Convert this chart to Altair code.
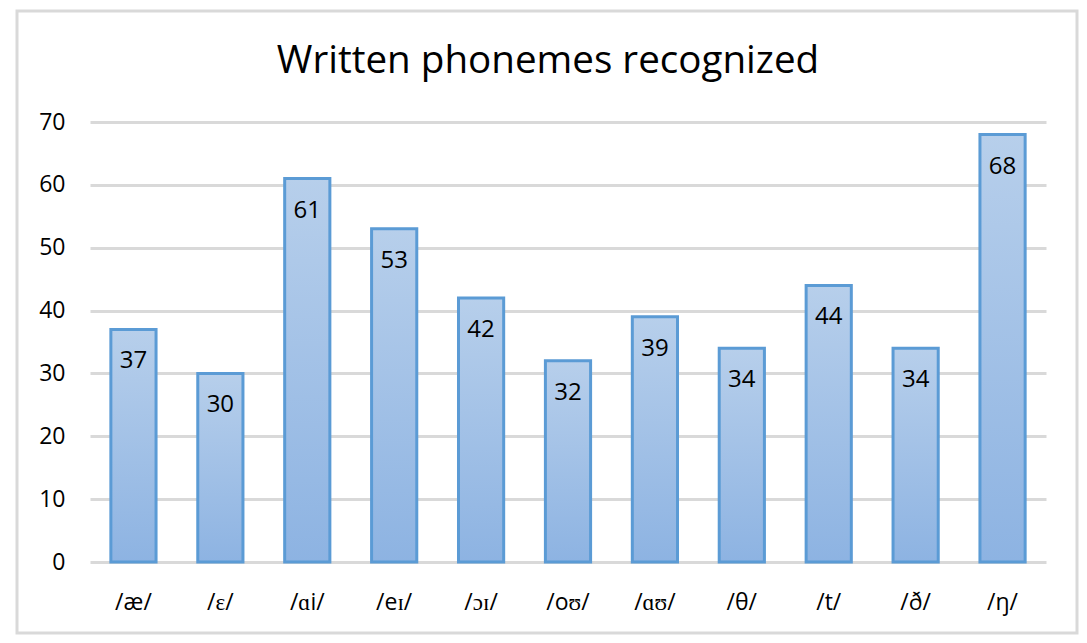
import altair as alt
import pandas as pd

categories = ["/æ/", "/ɛ/", "/ɑi/", "/eɪ/", "/ɔɪ/", "/oʊ/", "/ɑʊ/", "/θ/", "/t/", "/ð/", "/ŋ/"]
values = [37, 30, 61, 53, 42, 32, 39, 34, 44, 34, 68]
y_ticks = [0, 10, 20, 30, 40, 50, 60, 70]
title_text = "Written phonemes recognized"

df = pd.DataFrame({"phoneme": categories, "count": values})

FONT = "Open Sans"
W, H = 956, 440

x_enc = alt.X("phoneme:N", sort=categories,
              scale=alt.Scale(paddingInner=0.48, paddingOuter=0.24),
              axis=alt.Axis(title=None, labelAngle=0, labelFontSize=23, labelColor="#000000",
                            labelFont=FONT, labelPadding=29, ticks=False, domain=False))
y_enc = alt.Y("count:Q", scale=alt.Scale(domain=[0, 70]),
              axis=alt.Axis(title=None, values=y_ticks, labelFontSize=23, labelColor="#000000",
                            labelFont=FONT, labelPadding=25, ticks=False, domain=False,
                            gridColor="#d9d9d9", gridWidth=3))

grad = alt.Gradient(gradient="linear",
                    stops=[alt.GradientStop(color="#b7cfeb", offset=0),
                           alt.GradientStop(color="#8db3e2", offset=1)],
                    x1=0, x2=0, y1=0, y2=1)

bars = alt.Chart(df).mark_bar(fill=grad, stroke="#5b9bd5", strokeWidth=3).encode(x=x_enc, y=y_enc)

labels = alt.Chart(df).mark_text(baseline="middle", dy=32, fontSize=24, font=FONT, color="#000000").encode(
    x=alt.X("phoneme:N", sort=categories), y="count:Q", text="count:Q")

one = pd.DataFrame({"a": [0]})
border = alt.Chart(one).mark_rect(fill=None, stroke="#d9d9d9", strokeWidth=3).encode(
    x=alt.value(-73), x2=alt.value(987), y=alt.value(-111), y2=alt.value(511))

title = alt.Chart(one).mark_text(fontSize=38.6, font=FONT, color="#000000", align="center",
                                 baseline="middle").encode(
    x=alt.value(458), y=alt.value(-61), text=alt.value(title_text))

chart = alt.layer(bars, labels, border, title).properties(
    width=W, height=H,
    autosize=alt.AutoSizeParams(type="none"),
    padding={"left": 82, "top": 114, "right": 33, "bottom": 73},
).configure_view(stroke=None)

chart.save("out.html", embed_options={"renderer": "svg", "actions": False})
